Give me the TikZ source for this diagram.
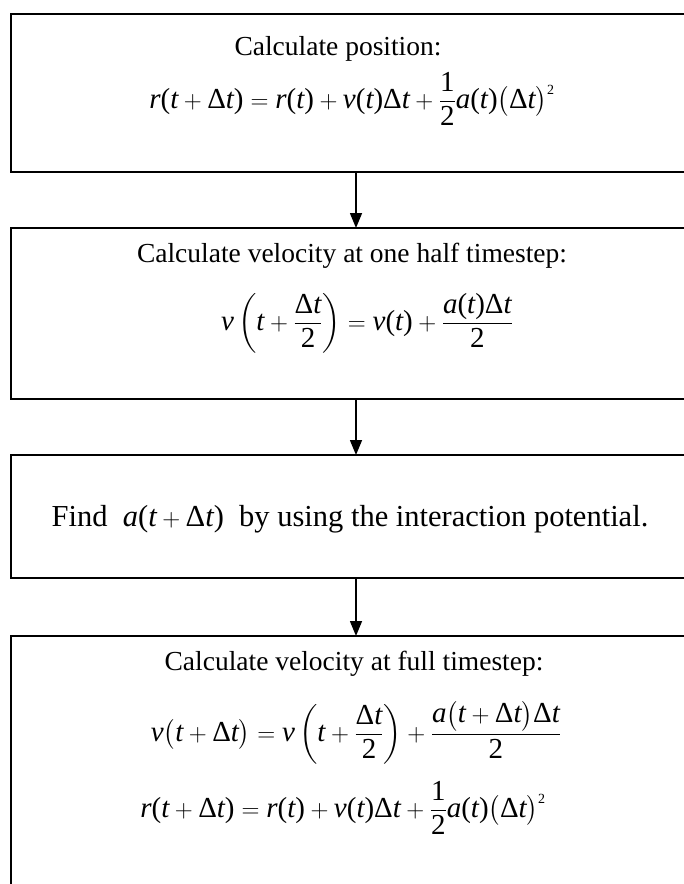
\documentclass[tikz,border=0pt]{standalone}
\usepackage{amsmath}
\usepackage{fontspec}
\setmainfont{Liberation Serif}
\usetikzlibrary{arrows.meta}
\newcommand{\iv}[1]{\textit{#1}}
\newcommand{\dlt}{\text{Δ}\iv{t}}
\newcommand{\lp}{\mathopen{\text{(}}}
\newcommand{\rp}{\mathclose{\text{)}}}
\newcommand{\sqr}{^{\text{\fontsize{14pt}{16pt}\selectfont 2}}}
\begin{document}
\begin{tikzpicture}[x=1pt,y=-1pt,
  stepbox/.style={draw,line width=2pt,minimum width=690pt,outer sep=0pt,inner sep=0pt},
  txt/.style={anchor=base,inner sep=0pt,font=\fontsize{27.5pt}{33pt}\selectfont},
  eqn/.style={anchor=base,inner sep=0pt,font=\fontsize{29pt}{34pt}\selectfont},
  arr/.style={line width=1.5pt,-{Triangle[length=15pt,width=12pt]}}]
\useasboundingbox (0,0) rectangle (684,884);
\clip (0,0) rectangle (684,884);
\fill[white] (0,0) rectangle (684,884);
% boxes
\node[stepbox,minimum height=158pt] (b1) at (356,93) {};
\node[stepbox,minimum height=171pt] (b2) at (356,313.5) {};
\node[stepbox,minimum height=123pt] (b3) at (356,516.5) {};
\node[stepbox,minimum height=264pt] (b4) at (356,768) {};
% connectors
\draw[arr] (b1.south) -- (b2.north);
\draw[arr] (b2.south) -- (b3.north);
\draw[arr] (b3.south) -- (b4.north);
% texts
\node[txt] (t1) at (338,55) {Calculate position:};
\node[eqn] (f1) at (352,108) {$\displaystyle \iv{r}\lp\iv{t}+\dlt\rp=\iv{r}\lp\iv{t}\rp+\iv{v}\lp\iv{t}\rp\dlt+\frac{\text{1}}{\text{2}}\iv{a}\lp\iv{t}\rp\bigl(\dlt\bigr)\sqr$};
\node[txt] (t2) at (352,262) {Calculate velocity at one half timestep:};
\node[eqn] (f2) at (367,330) {$\displaystyle \iv{v}\left(\iv{t}+\frac{\dlt}{\text{2}}\right)=\iv{v}\lp\iv{t}\rp+\frac{\iv{a}\lp\iv{t}\rp\dlt}{\text{2}}$};
\node[txt,font=\fontsize{30.5pt}{36pt}\selectfont] (t3) at (350,526) {Find\hspace{0.5em}$\iv{a}\lp\iv{t}+\dlt\rp$\hspace{0.5em}by using the interaction potential.};
\node[txt] (t4) at (354,670) {Calculate velocity at full timestep:};
\node[eqn] (f3) at (356,741) {$\displaystyle \iv{v}\bigl(\iv{t}+\dlt\bigr)=\iv{v}\left(\iv{t}+\frac{\dlt}{\text{2}}\right)+\frac{\iv{a}\bigl(\iv{t}+\dlt\bigr)\dlt}{\text{2}}$};
\node[eqn] (f4) at (343,817) {$\displaystyle \iv{r}\lp\iv{t}+\dlt\rp=\iv{r}\lp\iv{t}\rp+\iv{v}\lp\iv{t}\rp\dlt+\frac{\text{1}}{\text{2}}\iv{a}\lp\iv{t}\rp\bigl(\dlt\bigr)\sqr$};
\end{tikzpicture}
\end{document}
